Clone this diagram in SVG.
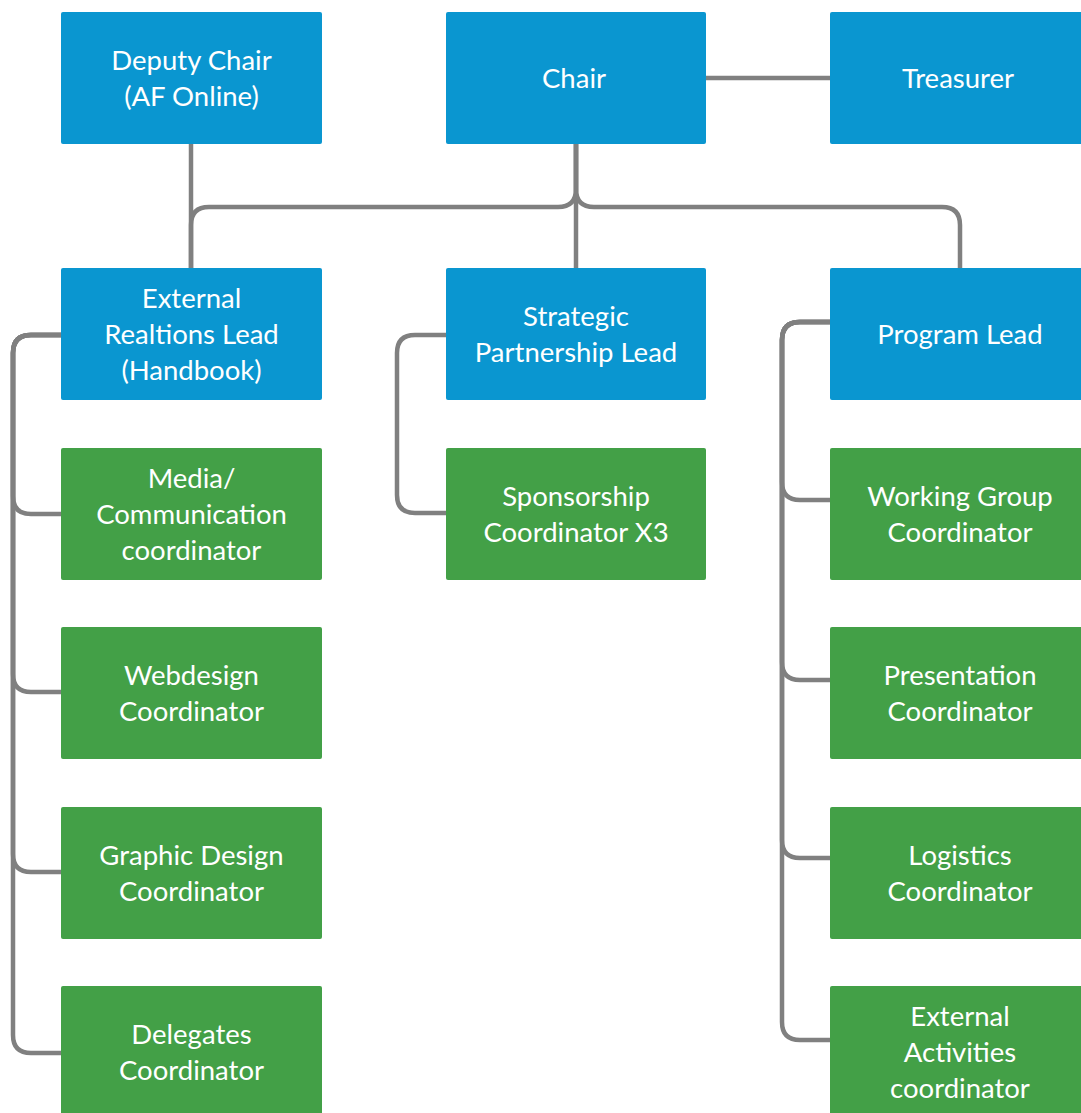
<svg xmlns="http://www.w3.org/2000/svg" width="1081" height="1113" viewBox="0 0 1081 1113">
<style>
.lead{fill:#0A96D0}
.coord{fill:#43A047}
.t{font-family:Lato,"Open Sans","Liberation Sans",sans-serif;font-size:27.5px;fill:#FFFFFF;text-anchor:middle}
.c{fill:none;stroke:#808080;stroke-width:4.5}
</style>
<rect width="1081" height="1113" fill="#FFFFFF"/>
<g id="connectors">
<path class="c" d="M191,144 V268"/>
<path class="c" d="M576,144 V268"/>
<path class="c" d="M576,144 V189 Q576,207 558,207 H209 Q191,207 191,225 V268"/>
<path class="c" d="M576,144 V189 Q576,207 594,207 H942 Q960,207 960,225 V268"/>
<path class="c" d="M706,78 H830"/>
<path class="c" d="M61,335 H31 Q13,335 13,353 V496 Q13,514 31,514 H61"/>
<path class="c" d="M61,335 H31 Q13,335 13,353 V674 Q13,692 31,692 H61"/>
<path class="c" d="M61,335 H31 Q13,335 13,353 V854 Q13,872 31,872 H61"/>
<path class="c" d="M61,335 H31 Q13,335 13,353 V1035 Q13,1053 31,1053 H61"/>
<path class="c" d="M446,335 H415 Q397,335 397,353 V495 Q397,513 415,513 H446"/>
<path class="c" d="M830,322 H800 Q782,322 782,340 V482 Q782,500 800,500 H830"/>
<path class="c" d="M830,322 H800 Q782,322 782,340 V662 Q782,680 800,680 H830"/>
<path class="c" d="M830,322 H800 Q782,322 782,340 V840 Q782,858 800,858 H830"/>
<path class="c" d="M830,322 H800 Q782,322 782,340 V1022 Q782,1040 800,1040 H830"/>
</g>
<g id="deputy-chair"><rect class="lead" x="61" y="12" width="261" height="132" rx="2"/><text class="t" x="191.5" y="70">Deputy Chair</text><text class="t" x="191.5" y="106">(AF Online)</text></g>
<g id="chair"><rect class="lead" x="446" y="12" width="260" height="132" rx="2"/><text class="t" x="574" y="88">Chair</text></g>
<g id="treasurer"><rect class="lead" x="830" y="12" width="261" height="132" rx="2"/><text class="t" x="958" y="88">Treasurer</text></g>
<g id="external-relations-lead"><rect class="lead" x="61" y="268" width="261" height="132" rx="2"/><text class="t" x="191.5" y="308">External</text><text class="t" x="191.5" y="344">Realtions Lead</text><text class="t" x="191.5" y="380">(Handbook)</text></g>
<g id="strategic-partnership-lead"><rect class="lead" x="446" y="268" width="260" height="132" rx="2"/><text class="t" x="576" y="326">Strategic</text><text class="t" x="576" y="362">Partnership Lead</text></g>
<g id="program-lead"><rect class="lead" x="830" y="268" width="261" height="132" rx="2"/><text class="t" x="960" y="344">Program Lead</text></g>
<g id="media-coordinator"><rect class="coord" x="61" y="448" width="261" height="132" rx="2"/><text class="t" x="191.5" y="488">Media/</text><text class="t" x="191.5" y="524">Communication</text><text class="t" x="191.5" y="560">coordinator</text></g>
<g id="sponsorship-coordinator"><rect class="coord" x="446" y="448" width="260" height="132" rx="2"/><text class="t" x="576" y="506">Sponsorship</text><text class="t" x="576" y="542">Coordinator X3</text></g>
<g id="working-group-coordinator"><rect class="coord" x="830" y="448" width="261" height="132" rx="2"/><text class="t" x="960" y="506">Working Group</text><text class="t" x="960" y="542">Coordinator</text></g>
<g id="webdesign-coordinator"><rect class="coord" x="61" y="627" width="261" height="132" rx="2"/><text class="t" x="191.5" y="685">Webdesign</text><text class="t" x="191.5" y="721">Coordinator</text></g>
<g id="presentation-coordinator"><rect class="coord" x="830" y="627" width="261" height="132" rx="2"/><text class="t" x="960" y="685">Presentation</text><text class="t" x="960" y="721">Coordinator</text></g>
<g id="graphic-design-coordinator"><rect class="coord" x="61" y="807" width="261" height="132" rx="2"/><text class="t" x="191.5" y="865">Graphic Design</text><text class="t" x="191.5" y="901">Coordinator</text></g>
<g id="logistics-coordinator"><rect class="coord" x="830" y="807" width="261" height="132" rx="2"/><text class="t" x="960" y="865">Logistics</text><text class="t" x="960" y="901">Coordinator</text></g>
<g id="delegates-coordinator"><rect class="coord" x="61" y="986" width="261" height="132" rx="2"/><text class="t" x="191.5" y="1044">Delegates</text><text class="t" x="191.5" y="1080">Coordinator</text></g>
<g id="external-activities-coordinator"><rect class="coord" x="830" y="986" width="261" height="132" rx="2"/><text class="t" x="960" y="1026">External</text><text class="t" x="960" y="1062">Activities</text><text class="t" x="960" y="1098">coordinator</text></g>
</svg>
